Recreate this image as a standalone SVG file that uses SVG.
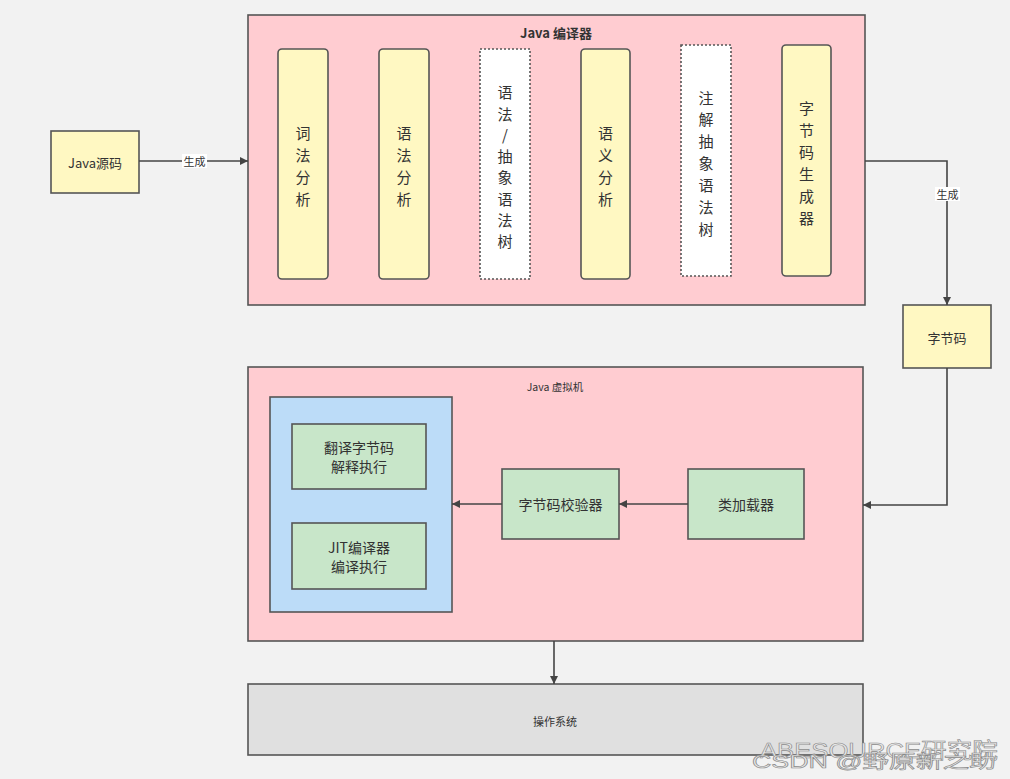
<svg xmlns="http://www.w3.org/2000/svg" width="1010" height="779" viewBox="0 0 1010 779">
<defs>
<style>
text{font-family:"Noto Sans CJK SC","Liberation Sans",sans-serif;fill:#333;}
.box{stroke:#555;stroke-width:1.6;}
.pink{fill:#ffccd1;}
.yellow{fill:#fff8c2;}
.green{fill:#c8e6c9;}
.blue{fill:#bcdcf8;}
.gray{fill:#e0e0e0;}
.dot{fill:#ffffff;stroke:#555;stroke-width:1.6;stroke-dasharray:2 2;}
.col{font-size:15px;text-anchor:middle;dominant-baseline:central;}
.lbl{font-size:14px;text-anchor:middle;dominant-baseline:central;}
.small{font-size:11px;text-anchor:middle;dominant-baseline:central;}
.conn{fill:none;stroke:#444;stroke-width:1.6;}
.wm{font-family:"Liberation Sans","Noto Sans CJK SC",sans-serif;fill:#e6e6e6;stroke:#8a8a8a;stroke-width:0.6;}
</style>
<marker id="arr" viewBox="0 0 10 10" refX="10" refY="5" markerWidth="8" markerHeight="8" markerUnits="userSpaceOnUse" orient="auto">
<path d="M0,0 L10,5 L0,10 z" fill="#444"/>
</marker>
</defs>
<rect x="0" y="0" width="1010" height="779" fill="#f2f2f2"/>

<g id="compiler">
<rect class="box pink" x="248" y="15" width="617" height="290"/>
<text x="556" y="32" font-size="13" font-weight="bold" text-anchor="middle" dominant-baseline="central">Java 编译器</text>
</g>

<g id="lexical">
<rect class="box yellow" x="278" y="49" width="50" height="230" rx="4"/>
<text class="col"><tspan x="303" y="132">词</tspan><tspan x="303" y="154">法</tspan><tspan x="303" y="176">分</tspan><tspan x="303" y="198">析</tspan></text>
</g>

<g id="syntax">
<rect class="box yellow" x="379" y="49" width="50" height="230" rx="4"/>
<text class="col"><tspan x="404" y="132">语</tspan><tspan x="404" y="154">法</tspan><tspan x="404" y="176">分</tspan><tspan x="404" y="198">析</tspan></text>
</g>

<g id="ast">
<rect class="dot" x="480" y="49" width="50" height="230"/>
<text class="col"><tspan x="505" y="91">语</tspan><tspan x="505" y="113">法</tspan><tspan x="505" y="134">/</tspan><tspan x="505" y="155">抽</tspan><tspan x="505" y="176">象</tspan><tspan x="505" y="198">语</tspan><tspan x="505" y="219">法</tspan><tspan x="505" y="240">树</tspan></text>
</g>

<g id="semantic">
<rect class="box yellow" x="581" y="49" width="49" height="230" rx="4"/>
<text class="col"><tspan x="605.5" y="132">语</tspan><tspan x="605.5" y="154">义</tspan><tspan x="605.5" y="176">分</tspan><tspan x="605.5" y="198">析</tspan></text>
</g>

<g id="annotated-ast">
<rect class="dot" x="681" y="45" width="50" height="231"/>
<text class="col"><tspan x="706" y="97">注</tspan><tspan x="706" y="118">解</tspan><tspan x="706" y="140">抽</tspan><tspan x="706" y="162">象</tspan><tspan x="706" y="184">语</tspan><tspan x="706" y="206">法</tspan><tspan x="706" y="228">树</tspan></text>
</g>

<g id="bytecode-generator">
<rect class="box yellow" x="782" y="45" width="49" height="231" rx="4"/>
<text class="col"><tspan x="806.5" y="107">字</tspan><tspan x="806.5" y="129">节</tspan><tspan x="806.5" y="151">码</tspan><tspan x="806.5" y="173">生</tspan><tspan x="806.5" y="195">成</tspan><tspan x="806.5" y="217">器</tspan></text>
</g>

<g id="java-source">
<rect class="box yellow" x="51" y="131" width="88" height="62"/>
<text x="95" y="162" font-size="13" text-anchor="middle" dominant-baseline="central">Java源码</text>
</g>

<g id="bytecode">
<rect class="box yellow" x="903" y="305" width="88" height="63"/>
<text x="947" y="337" font-size="13" text-anchor="middle" dominant-baseline="central">字节码</text>
</g>

<g id="jvm">
<rect class="box pink" x="248" y="367" width="615" height="274"/>
<text x="555" y="386" font-size="10.5" text-anchor="middle" dominant-baseline="central">Java 虚拟机</text>
</g>

<g id="execution-engine">
<rect class="box blue" x="270" y="397" width="182" height="215"/>
</g>

<g id="interpreter">
<rect class="box green" x="292" y="424" width="134" height="65"/>
<text class="lbl"><tspan x="359" y="447">翻译字节码</tspan><tspan x="359" y="466">解释执行</tspan></text>
</g>

<g id="jit">
<rect class="box green" x="292" y="523" width="134" height="66"/>
<text class="lbl"><tspan x="359" y="547">JIT编译器</tspan><tspan x="359" y="566">编译执行</tspan></text>
</g>

<g id="verifier">
<rect class="box green" x="502" y="469" width="117" height="70"/>
<text class="lbl" x="560.5" y="504">字节码校验器</text>
</g>

<g id="classloader">
<rect class="box green" x="688" y="469" width="116" height="70"/>
<text class="lbl" x="746" y="504">类加载器</text>
</g>

<g id="os">
<rect class="box gray" x="248" y="684" width="615" height="71"/>
<text class="small" x="555" y="721">操作系统</text>
</g>

<g id="connectors">
<path class="conn" d="M139,161 L248,161" marker-end="url(#arr)"/>
<rect x="182" y="154" width="25" height="14" fill="#ffffff"/>
<text class="small" x="194.5" y="161">生成</text>
<path class="conn" d="M865,161 L947,161 L947,305" marker-end="url(#arr)"/>
<rect x="935" y="187" width="25" height="14" fill="#ffffff"/>
<text class="small" x="947.5" y="194">生成</text>
<path class="conn" d="M947,368 L947,505 L863,505" marker-end="url(#arr)"/>
<path class="conn" d="M688,504 L619,504" marker-end="url(#arr)"/>
<path class="conn" d="M502,504 L452,504" marker-end="url(#arr)"/>
<path class="conn" d="M554,641 L554,684" marker-end="url(#arr)"/>
</g>

<g id="watermark">
<text class="wm" x="760" y="758" font-size="22" textLength="238" lengthAdjust="spacingAndGlyphs">ABESOURCE研究院</text>
<text class="wm" x="752" y="768" font-size="18" textLength="244" lengthAdjust="spacingAndGlyphs">CSDN @野原新之助</text>
</g>
</svg>
